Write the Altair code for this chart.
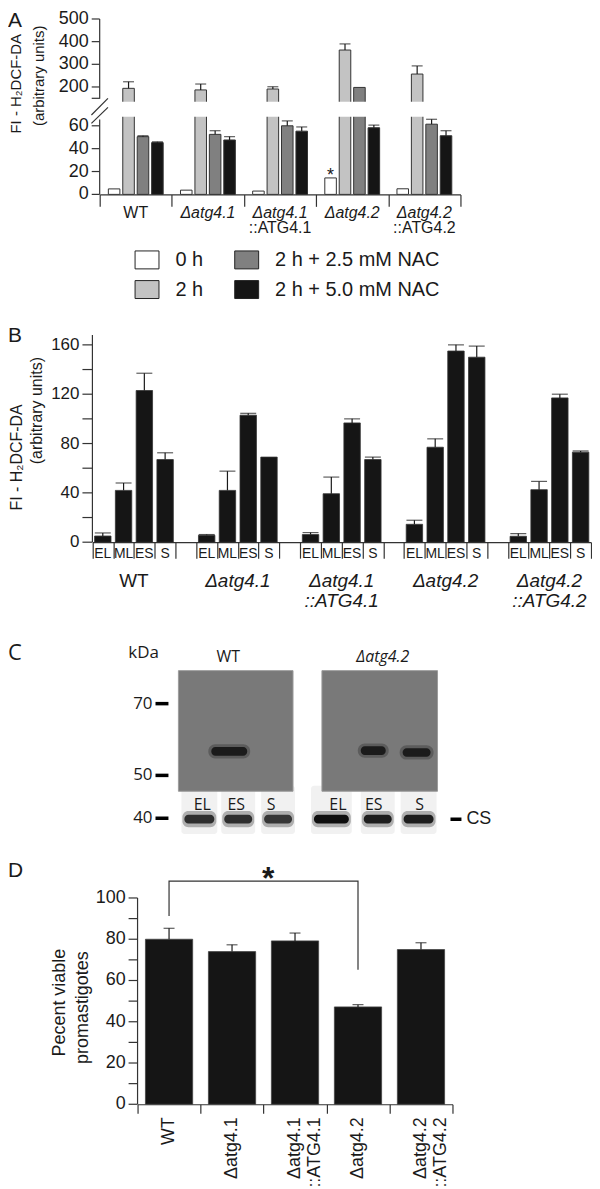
import altair as alt
import pandas as pd

FONT = "Liberation Sans"
BLOT_FONT = "Open Sans"
INK = "#1a1a1a"
AX = "#333333"
BAR_BLACK = "#151515"

# ---------------- shared categories ----------------
strains = ["WT", "Δatg4.1", "Δatg4.1::ATG4.1", "Δatg4.2", "Δatg4.2::ATG4.2"]
name_line1 = ["WT", "Δatg4.1", "Δatg4.1", "Δatg4.2", "Δatg4.2"]
name_line2 = ["", "", "::ATG4.1", "", "::ATG4.2"]
name_italic = [False, True, True, True, True]

# ---------------- panel A data ----------------
conditions = ["0 h", "2 h", "2 h + 2.5 mM NAC", "2 h + 5.0 mM NAC"]
cond_colors = ["#ffffff", "#c3c3c3", "#808080", "#151515"]
a_0h = [4.8, 3.7, 2.9, 14.4, 4.9]
a_2h = [194, 187, 191, 363, 257]
a_nac25 = [50.5, 52.5, 60.0, 198, 61.4]
a_nac50 = [45.3, 47.6, 55.3, 58.3, 51.3]
a_0h_err = [4.8, 3.7, 2.9, 14.4, 4.9]
a_2h_err = [223, 213, 201, 390, 293]
a_nac25_err = [51.3, 55.7, 64.3, 198, 65.7]
a_nac50_err = [46.0, 50.5, 59.0, 60.6, 55.7]
a_tick_values = [0, 20, 40, 60, 150, 200, 300, 400, 500]
a_tick_labels = ["0", "20", "40", "60", "", "200", "300", "400", "500"]
a_break = [68, 135]
a_axis_seg_lo = [0, 148]
a_axis_seg_hi = [65.4, 500]

# ---------------- panel B data ----------------
stages = ["EL", "ML", "ES", "S"]
b_wt = [5.0, 42.0, 123.0, 67.0]
b_wt_err = [7.5, 48.0, 137.0, 72.5]
b_41 = [5.6, 42.0, 103.0, 69.0]
b_41_err = [6.2, 57.6, 104.5, 69.0]
b_41c = [6.2, 39.3, 96.7, 67.0]
b_41c_err = [7.8, 52.8, 100.0, 69.0]
b_42 = [14.5, 77.0, 155.0, 150.0]
b_42_err = [17.8, 83.8, 160.0, 159.0]
b_42c = [4.8, 42.6, 117.0, 73.0]
b_42c_err = [7.0, 49.3, 120.0, 74.0]
b_tick_values = [0, 20, 40, 60, 80, 100, 120, 140, 160]
b_tick_labels = ["0", "", "40", "", "80", "", "120", "", "160"]

# ---------------- panel C (western blot) ----------------
kda_marks = [70, 50, 40]
kda_labels = ["70", "50", "40"]
c_blot_names = ["WT", "Δatg4.2"]
c_blot_x0 = [179, 323]
c_blot_x1 = [294, 439]
c_blot_top = [79.2, 79.2]
c_blot_bottom = [46.3, 46.3]
c_band_x0 = [212, 362, 404]
c_band_x1 = [248, 387, 432]
c_band_kda = [56.7, 56.9, 56.4]
c_lane_names = ["EL", "ES", "S", "EL", "ES", "S"]
c_lane_x = [203, 237, 272, 339, 375, 421]
c_cs_x0 = [185, 225, 265, 315, 365, 405]
c_cs_x1 = [215, 253, 293, 350, 393, 435]
c_cs_strength = [0.8, 0.8, 0.75, 1.0, 0.9, 0.9]
c_cs_kda = [39.8, 39.8, 39.8, 39.8, 39.8, 39.8]

# ---------------- panel D data ----------------
d_viable = [80.0, 74.0, 79.2, 47.2, 75.0]
d_viable_err = [85.3, 77.3, 83.0, 48.3, 78.3]
d_tick_values = [0, 10, 20, 30, 40, 50, 60, 70, 80, 90, 100]
d_tick_labels = ["0", "", "20", "", "40", "", "60", "", "80", "", "100"]
d_bracket_strain = ["WT", "WT", "Δatg4.2", "Δatg4.2"]
d_bracket_y = [91.3, 108.2, 108.2, 65.2]


def text_layer(text, x, y, size, angle=0, style="normal", font=FONT,
               align="center", baseline="middle", weight="normal"):
    return alt.Chart(pd.DataFrame({"t": [text]})).mark_text(
        fontSize=size, angle=angle, fontStyle=style, font=font, align=align,
        baseline=baseline, fontWeight=weight, color=INK
    ).encode(text="t:N", x=alt.value(x), y=alt.value(y))


def rule_layer(x, y, x2, y2, width=1.2, color=AX):
    return alt.Chart(pd.DataFrame({"k": [0]})).mark_rule(
        color=color, strokeWidth=width
    ).encode(x=alt.value(x), y=alt.value(y), x2=alt.value(x2), y2=alt.value(y2))


def y_axis(Y, values, labels, axis_x, tick_len, pad, size, seg_lo=None, seg_hi=None,
           font=FONT, tick_width=1.2, tick_color=AX):
    """Left value axis drawn through the panel's y scale."""
    df = pd.DataFrame({"v": values, "lab": labels})
    layers = [
        alt.Chart(df).mark_rule(color=tick_color, strokeWidth=tick_width).encode(
            x=alt.value(axis_x - tick_len), x2=alt.value(axis_x), y=Y("v:Q")),
        alt.Chart(df).mark_text(align="right", baseline="middle", fontSize=size,
                                font=font, color=INK).encode(
            x=alt.value(axis_x - tick_len - pad), y=Y("v:Q"), text="lab:N"),
    ]
    if seg_lo is not None:
        dseg = pd.DataFrame({"lo": seg_lo, "hi": seg_hi})
        layers.append(alt.Chart(dseg).mark_rule(color=AX, strokeWidth=1.2).encode(
            x=alt.value(axis_x), y=Y("lo:Q"), y2="hi:Q"))
    return layers


df_names = pd.DataFrame({"strain": strains, "l1": name_line1, "l2": name_line2,
                         "it": name_italic})

# =============== PANEL A (origin page 8, 8) ===============
rows = []
for cond, vals, errs in [("0 h", a_0h, a_0h_err), ("2 h", a_2h, a_2h_err),
                         ("2 h + 2.5 mM NAC", a_nac25, a_nac25_err),
                         ("2 h + 5.0 mM NAC", a_nac50, a_nac50_err)]:
    for s, v, e in zip(strains, vals, errs):
        rows.append({"strain": s, "cond": cond, "value": v, "err": e})
df_a = pd.DataFrame(rows)

xA = alt.Scale(domain=strains, range=[92, 454], paddingInner=0, paddingOuter=0)
xoA = alt.Scale(domain=conditions, paddingInner=0.2, paddingOuter=0.6)
yA = alt.Scale(domain=[0, 68, 135, 500], range=[185, 107, 92, 9], nice=False, zero=False)
axis_xA = alt.Axis(labels=False, tickBand="extent", tickSize=12, title=None, grid=False)


def XA(field="strain:N", **kw):
    return alt.X(field, scale=xA, axis=axis_xA, title=None, **kw)


def YA(field):
    return alt.Y(field, scale=yA, axis=None, title=None)


XOA = alt.XOffset("cond:N", scale=xoA)

legA = alt.Legend(orient="none", legendX=127, legendY=238, columns=2, title=None,
                  symbolType="M-1,-0.75H1V0.75H-1Z", symbolSize=576,
                  symbolStrokeColor="#222", symbolStrokeWidth=1, symbolOpacity=1,
                  labelFontSize=20, labelOffset=16, columnPadding=29, rowPadding=6,
                  labelLimit=400, padding=0, labelFont=FONT, labelColor=INK)

bars_a = alt.Chart(df_a).mark_bar(stroke=AX, strokeWidth=1).encode(
    x=XA(), xOffset=XOA, y=YA("value:Q"),
    fill=alt.Fill("cond:N", scale=alt.Scale(domain=conditions, range=cond_colors),
                  legend=legA),
)
err_base_a = alt.Chart(df_a).transform_filter("datum.err > datum.value")
rules_a = err_base_a.mark_rule(color=INK, strokeWidth=1.2).encode(
    x=XA(), xOffset=XOA, y=YA("value:Q"), y2="err:Q")
caps_a = err_base_a.mark_tick(color=INK, thickness=1.2, size=11).encode(
    x=XA(), xOffset=XOA, y=YA("err:Q"))
df_break = pd.DataFrame({"strain": strains, "lo": [a_break[0]] * 5, "hi": [a_break[1]] * 5})
break_a = alt.Chart(df_break).mark_bar(width=alt.RelativeBandSize(1), fill="white",
                                       strokeWidth=0).encode(
    x=XA(), y=YA("lo:Q"), y2="hi:Q")
star_a = alt.Chart(df_a).transform_filter(
    "datum.strain == 'Δatg4.2' && datum.cond == '0 h'"
).mark_text(text="*", fontSize=18, baseline="alphabetic", dy=3, color=INK).encode(
    x=XA(), xOffset=XOA, y=YA("value:Q"))
lab_a_up = alt.Chart(df_names).transform_filter("!datum.it").mark_text(
    fontSize=16, color=INK).encode(x=XA(), y=alt.value(204), text="l1:N")
lab_a_it = alt.Chart(df_names).transform_filter("datum.it").mark_text(
    fontSize=16, fontStyle="italic", color=INK).encode(x=XA(), y=alt.value(204), text="l1:N")
lab_a_2 = alt.Chart(df_names).mark_text(fontSize=16, color=INK).encode(
    x=XA(), y=alt.value(219), text="l2:N")

panel_a = alt.layer(
    bars_a, rules_a, caps_a, break_a,
    *y_axis(YA, a_tick_values, a_tick_labels, 92, 8, 3, 18, a_axis_seg_lo, a_axis_seg_hi),
    rule_layer(83.7, 105.3, 100.3, 88.7),
    rule_layer(83.7, 113.7, 100.3, 97.7),
    star_a, lab_a_up, lab_a_it, lab_a_2,
    text_layer("FI - H₂DCF-DA", 8, 74, 15, angle=270),
    text_layer("(arbitrary units)", 31, 66, 15, angle=270),
    text_layer("A", 0, 0, 21, align="left", baseline="top"),
).properties(width=584, height=185)

# =============== PANEL B (origin page 8, 193) ===============
cats = []
for i, s in enumerate(strains):
    for st in stages:
        cats.append(f"{s}|{st}")
    if i < len(strains) - 1:
        cats.append(f"gap{i}")

rows = []
for s, vals, errs in [("WT", b_wt, b_wt_err), ("Δatg4.1", b_41, b_41_err),
                      ("Δatg4.1::ATG4.1", b_41c, b_41c_err), ("Δatg4.2", b_42, b_42_err),
                      ("Δatg4.2::ATG4.2", b_42c, b_42c_err)]:
    for st, v, e in zip(stages, vals, errs):
        rows.append({"cat": f"{s}|{st}", "stage": st, "value": v, "err": e})
df_b = pd.DataFrame(rows)

xB = alt.Scale(domain=cats, range=[84.7, 585], paddingInner=0, paddingOuter=0)
yB = alt.Scale(domain=[0, 168], range=[349, 141.1], nice=False)
axis_xB = alt.Axis(labels=False, tickBand="extent", tickSize=16, title=None, grid=False)


def XB(field="cat:N", **kw):
    return alt.X(field, scale=xB, axis=axis_xB, title=None, **kw)


def YB(field):
    return alt.Y(field, scale=yB, axis=None, title=None)


bars_b = alt.Chart(df_b).mark_bar(width=alt.RelativeBandSize(0.79), fill=BAR_BLACK,
                                  stroke=AX, strokeWidth=0.8).encode(
    x=XB(), y=YB("value:Q"))
err_base_b = alt.Chart(df_b).transform_filter("datum.err > datum.value")
rules_b = err_base_b.mark_rule(color=INK, strokeWidth=1.2).encode(
    x=XB(), y=YB("value:Q"), y2="err:Q")
caps_b = err_base_b.mark_tick(color=INK, thickness=1.2, size=16).encode(
    x=XB(), y=YB("err:Q"))
stage_labels = alt.Chart(df_b).mark_text(fontSize=14, color=INK).encode(
    x=XB(), y=alt.value(361), text="stage:N")

df_names_b = df_names.assign(anchor=[f"{s}|ML" for s in strains])
lab_b_up = alt.Chart(df_names_b).transform_filter("!datum.it").mark_text(
    fontSize=19, color=INK).encode(
    x=XB("anchor:N", bandPosition=1), y=alt.value(388), text="l1:N")
lab_b_it = alt.Chart(df_names_b).transform_filter("datum.it").mark_text(
    fontSize=19, fontStyle="italic", color=INK).encode(
    x=XB("anchor:N", bandPosition=1), y=alt.value(388), text="l1:N")
lab_b_2 = alt.Chart(df_names_b).mark_text(fontSize=19, fontStyle="italic", color=INK).encode(
    x=XB("anchor:N", bandPosition=1), y=alt.value(408), text="l2:N")

panel_b = alt.layer(
    bars_b, rules_b, caps_b,
    *y_axis(YB, b_tick_values, b_tick_labels, 84.7, 10, 3, 17, [0], [168]),
    stage_labels, lab_b_up, lab_b_it, lab_b_2,
    text_layer("FI - H₂DCF-DA", 9, 264, 16, angle=270),
    text_layer("(arbitrary units)", 29, 217, 16, angle=270),
    text_layer("B", 0, 142, 21, align="left"),
).properties(width=584, height=349)

# =============== PANEL C (origin page 8, 542) ===============
xC = alt.Scale(domain=[8, 592], range=[0, 584], nice=False, zero=False)
yC = alt.Scale(domain=[40, 50, 70], range=[277, 234, 162], nice=False, zero=False)


def XC(field):
    return alt.X(field, scale=xC, axis=None, title=None)


def YC(field):
    return alt.Y(field, scale=yC, axis=None, title=None)


df_blot = pd.DataFrame({"name": c_blot_names, "x0": c_blot_x0, "x1": c_blot_x1,
                        "top": c_blot_top, "bot": c_blot_bottom})
blots = alt.Chart(df_blot).mark_rect(fill="#797979", stroke="#9c9c9c", strokeWidth=1).encode(
    x=XC("x0:Q"), x2="x1:Q", y=YC("top:Q"), y2="bot:Q")

df_bands = pd.DataFrame({"x0": c_band_x0, "x1": c_band_x1, "kda": c_band_kda})
band_halo = alt.Chart(df_bands).transform_calculate(
    xa="datum.x0 - 3", xb="datum.x1 + 3", ya="datum.kda + 2.0", yb="datum.kda - 2.0"
).mark_rect(fill="#1a1a1a", opacity=0.3, cornerRadius=7).encode(
    x=XC("xa:Q"), x2="xb:Q", y=YC("ya:Q"), y2="yb:Q")
band_core = alt.Chart(df_bands).transform_calculate(
    ya="datum.kda + 1.2", yb="datum.kda - 1.2"
).mark_rect(fill="#141414", opacity=0.9, cornerRadius=4).encode(
    x=XC("x0:Q"), x2="x1:Q", y=YC("ya:Q"), y2="yb:Q")

df_cs = pd.DataFrame({"x0": c_cs_x0, "x1": c_cs_x1, "kda": c_cs_kda, "s": c_cs_strength})
cs_smear = alt.Chart(df_cs).transform_calculate(
    xa="datum.x0 - 3", xb="datum.x1 + 3", ya="datum.kda + 7.8", yb="datum.kda - 3.5"
).mark_rect(fill="#efefef", opacity=0.9, cornerRadius=3).encode(
    x=XC("xa:Q"), x2="xb:Q", y=YC("ya:Q"), y2="yb:Q")
cs_halo = alt.Chart(df_cs).transform_calculate(
    xa="datum.x0 - 2", xb="datum.x1 + 2", ya="datum.kda + 1.9", yb="datum.kda - 1.9"
).mark_rect(fill="#303030", opacity=0.35, cornerRadius=6).encode(
    x=XC("xa:Q"), x2="xb:Q", y=YC("ya:Q"), y2="yb:Q")
cs_core = alt.Chart(df_cs).transform_calculate(
    ya="datum.kda + 1.0", yb="datum.kda - 1.0"
).mark_rect(fill="#0e0e0e", cornerRadius=4).encode(
    x=XC("x0:Q"), x2="x1:Q", y=YC("ya:Q"), y2="yb:Q",
    opacity=alt.Opacity("s:Q", scale=None))

df_lanes = pd.DataFrame({"lane": c_lane_names, "lx": c_lane_x})
lane_labels = alt.Chart(df_lanes).mark_text(font=BLOT_FONT, fontSize=16, color=INK).encode(
    x=XC("lx:Q"), y=alt.value(264), text="lane:N")

panel_c = alt.layer(
    cs_smear, blots, band_halo, band_core, cs_halo, cs_core, lane_labels,
    *y_axis(YC, kda_marks, kda_labels, 161, 13, 3, 17, font=BLOT_FONT,
            tick_width=3.5, tick_color="#000"),
    text_layer("C", 0, 111, 22, font=BLOT_FONT, align="left"),
    text_layer("kDa", 136, 111, 17, font=BLOT_FONT),
    text_layer("WT", 221, 115, 16, font=BLOT_FONT),
    text_layer("Δatg4.2", 376, 115, 16, font=BLOT_FONT, style="italic"),
    rule_layer(444, 278, 455, 278, width=3.5, color="#000"),
    text_layer("CS", 460, 278, 18, align="left"),
).properties(width=584, height=318)

# =============== PANEL D (origin page 8, 860) ===============
d_labels = [a if not b else a + "\n" + b for a, b in zip(name_line1, name_line2)]
df_d = pd.DataFrame({"strain": strains, "value": d_viable, "err": d_viable_err,
                     "lab": d_labels})
xD = alt.Scale(domain=strains, range=[130, 446], paddingInner=0, paddingOuter=0)
yD = alt.Scale(domain=[0, 100], range=[246, 39], nice=False)
axis_xD = alt.Axis(labels=False, tickBand="extent", tickSize=9, title=None, grid=False)


def XD(field="strain:N"):
    return alt.X(field, scale=xD, axis=axis_xD, title=None)


def YD(field):
    return alt.Y(field, scale=yD, axis=None, title=None)


bars_d = alt.Chart(df_d).mark_bar(width=alt.RelativeBandSize(0.75), fill=BAR_BLACK,
                                  stroke="#444", strokeWidth=0.8).encode(
    x=XD(), y=YD("value:Q"))
rules_d = alt.Chart(df_d).mark_rule(color=INK, strokeWidth=1.2).encode(
    x=XD(), y=YD("value:Q"), y2="err:Q")
caps_d = alt.Chart(df_d).mark_tick(color=INK, thickness=1.2, size=11).encode(
    x=XD(), y=YD("err:Q"))
df_br = pd.DataFrame({"strain": d_bracket_strain, "y": d_bracket_y, "o": [0, 1, 2, 3]})
bracket = alt.Chart(df_br).mark_line(color=AX, strokeWidth=1.2).encode(
    x=XD(), y=YD("y:Q"), order="o:Q")
xlab_d = alt.Chart(df_d).mark_text(angle=270, align="right", baseline="middle",
                                   lineBreak="\n", lineHeight=20, fontSize=18,
                                   color=INK).encode(
    x=XD(), y=alt.value(259), text="lab:N")

panel_d = alt.layer(
    bars_d, rules_d, caps_d, bracket,
    *y_axis(YD, d_tick_values, d_tick_labels, 130, 9, 3, 18, [0], [100]),
    xlab_d,
    text_layer("*", 261, 30, 32, baseline="alphabetic", weight="bold"),
    text_layer("Pecent viable", 52, 144, 18, angle=270),
    text_layer("promastigotes", 75, 149, 18, angle=270),
    text_layer("D", 0, 12, 21, align="left"),
).properties(width=584, height=246)

chart = alt.vconcat(panel_a, panel_b, panel_c, panel_d, spacing=0, bounds="flush").properties(
    padding=0
).configure(font=FONT).configure_view(strokeWidth=0, stroke="transparent").configure_axis(
    labelFont=FONT, labelColor=INK, domainColor=AX, tickColor=AX,
    domainWidth=1.2, tickWidth=1.2
)

chart.save("out.html", embed_options={"renderer": "svg", "actions": False})
